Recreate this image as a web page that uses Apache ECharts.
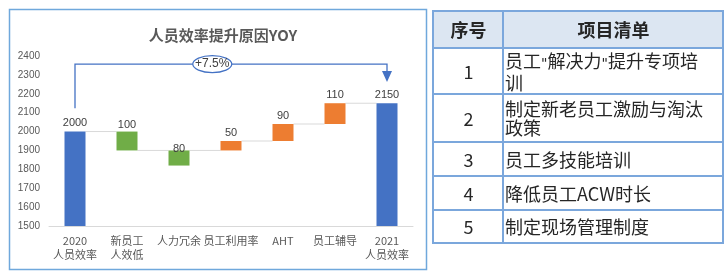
<!doctype html>
<html>
<head>
<meta charset="UTF-8">
<title>人员效率提升原因YOY</title>
<script src="https://cdn.jsdelivr.net/npm/echarts@6/dist/echarts.min.js"></script>
<style>
    body { margin: 0; background: #fff; }
    #main { position: absolute; left: 0; top: 0; width: 728px; height: 275px; }
    #list {
        position: absolute; left: 432px; top: 10px; width: 292px;
        border-collapse: collapse; font-family: "Noto Sans CJK SC", sans-serif;
        font-size: 18px; color: #262626;
    }
    #list td, #list th { border: 2px solid #7BA7DC; padding: 0 0 0 1px; line-height: 19px; }
    #list th { background: #DCE6F2; height: 35px; font-weight: bold; text-align: center; }
    #list td.no { text-align: center; width: 67px; }
    #list td.item { text-align: left; white-space: nowrap; }
    #list .q { font-family: "DejaVu Sans", sans-serif; font-size: 14px; }
</style>
</head>
<body>
<div id="main"></div>
<table id="list"></table>

<script type="text/javascript">
    // 数据
    var categories = ['2020\n人员效率', '新员工\n人效低', '人力冗余', '员工利用率', 'AHT', '员工辅导', '2021\n人员效率'];
    var totals   = [2000, '-', '-', '-', '-', '-', 2150];
    var decrease = ['-', 100, 80, '-', '-', '-', '-'];
    var increase = ['-', '-', '-', 50, 90, 110, '-'];
    var base     = ['-', 1900, 1820, 1900, 1950, 2040, '-'];
    // 连接线高度（第i根柱到第i+1根柱）
    var links = [2000, 1900, 1900, 1950, 2040, 2150];
    var yoyText = '+7.5%';
    var itemNo = ['1', '2', '3', '4', '5'];
    var items = ['员工<span class="q">"</span>解决力<span class="q">"</span>提升专项培<br>训', '制定新老员工激励与淘汰<br>政策', '员工多技能培训', '降低员工ACW时长', '制定现场管理制度'];
    var rowHeights = [46, 48, 34, 34, 33];

    // 右侧表格
    var html = '<tr><th>序号</th><th>项目清单</th></tr>';
    for (var i = 0; i < items.length; i++) {
        html += '<tr style="height:' + rowHeights[i] + 'px"><td class="no">' + itemNo[i] + '</td><td class="item">' + items[i] + '</td></tr>';
    }
    document.getElementById('list').innerHTML = html;

    var myChart = echarts.init(document.getElementById('main'));
    var labelStyle = {show: true, position: 'top', distance: 3, color: '#404040', fontSize: 11};

    option = {
        animation: false,
        backgroundColor: '#fff',
        title: {
            text: '人员效率提升原因YOY',
            left: 218,
            top: 23,
            textAlign: 'center',
            textStyle: {color: '#595959', fontSize: 15, fontWeight: 'bold', fontFamily: '"Noto Sans CJK SC"'}
        },
        graphic: [{
            type: 'rect',
            shape: {x: 9.5, y: 9.5, width: 417, height: 260},
            style: {fill: 'none', stroke: '#6FA8DC', lineWidth: 1.5},
            z: -1
        }],
        grid: {left: 49, right: 315, top: 56, bottom: 49},
        xAxis: {
            type: 'category',
            data: categories,
            axisLine: {lineStyle: {color: '#D9D9D9'}},
            axisTick: {show: false},
            axisLabel: {interval: 0, color: '#595959', fontSize: 11, lineHeight: 14, margin: 8, fontFamily: '"Noto Sans CJK SC"'}
        },
        yAxis: {
            type: 'value',
            min: 1500,
            max: 2400,
            interval: 100,
            splitLine: {show: false},
            axisLabel: {color: '#595959', fontSize: 10, margin: 9, formatter: function (v) { return String(v); }}
        },
        series: [
            {
                name: 'base',
                type: 'bar',
                stack: 'w',
                barWidth: 21,
                itemStyle: {color: 'transparent'},
                data: base
            },
            {
                name: '总计',
                type: 'bar',
                stack: 'w',
                itemStyle: {color: '#4472C4'},
                label: labelStyle,
                data: totals
            },
            {
                name: '减少',
                type: 'bar',
                stack: 'w',
                itemStyle: {color: '#70AD47'},
                label: labelStyle,
                data: decrease.map(function (v, i) {
                    if (i === 2) return {value: v, label: {distance: -4}};
                    if (i === 1) return {value: v, label: {distance: 1}};
                    return v;
                })
            },
            {
                name: '增加',
                type: 'bar',
                stack: 'w',
                itemStyle: {color: '#ED7D31'},
                label: labelStyle,
                data: increase
            },
            {
                name: 'links',
                type: 'custom',
                silent: true,
                data: links.map(function (v, i) { return [i, v]; }),
                renderItem: function (params, api) {
                    var a = api.coord([api.value(0), api.value(1)]);
                    var b = api.coord([api.value(0) + 1, api.value(1)]);
                    return {
                        type: 'line',
                        shape: {x1: a[0] + 10.5, y1: a[1], x2: b[0] - 10.5, y2: b[1]},
                        style: {stroke: '#D9D9D9', lineWidth: 1}
                    };
                },
                z: 1
            },
            {
                name: 'yoy',
                type: 'custom',
                silent: true,
                data: [[0, 6, 2124, 2357, 2320, 2262]],
                renderItem: function (params, api) {
                    var x0 = api.value(0), x1 = api.value(1);
                    var p0 = api.coord([x0, api.value(2)]);
                    var p1 = api.coord([x0, api.value(3)]);
                    var p2 = api.coord([x1, api.value(3)]);
                    var p3 = api.coord([x1, api.value(4)]);
                    var tip = api.coord([x1, api.value(5)]);
                    var cx = p1[0] + (p2[0] - p1[0]) * 0.44;
                    return {
                        type: 'group',
                        children: [
                            {
                                type: 'polyline',
                                shape: {points: [p0, p1, p2, p3]},
                                style: {stroke: '#4472C4', lineWidth: 1.3, fill: 'none'}
                            },
                            {
                                type: 'polygon',
                                shape: {points: [[p3[0] - 5, p3[1]], [p3[0] + 5, p3[1]], tip]},
                                style: {fill: '#4472C4'}
                            },
                            {
                                type: 'ellipse',
                                shape: {cx: cx, cy: p1[1], rx: 19.5, ry: 8.5},
                                style: {fill: '#fff', stroke: '#4472C4', lineWidth: 1.2}
                            },
                            {
                                type: 'text',
                                style: {
                                    text: yoyText, x: cx, y: p1[1],
                                    align: 'center', verticalAlign: 'middle',
                                    fill: '#404040', fontSize: 12
                                }
                            }
                        ]
                    };
                },
                z: 5
            }
        ]
    };
    myChart.setOption(option);
</script>
</body>
</html>
